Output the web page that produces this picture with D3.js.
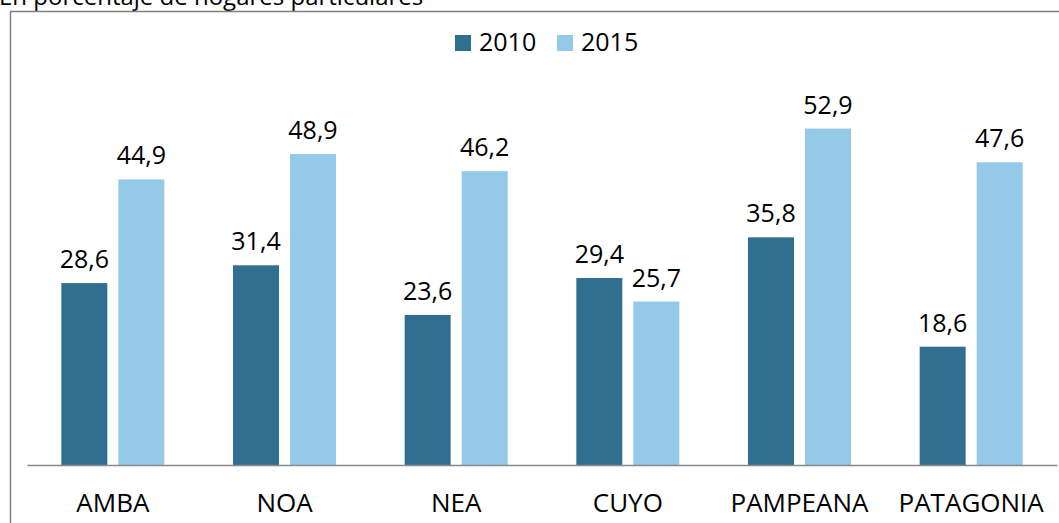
<!DOCTYPE html>
<html>
<head>
<meta charset="utf-8">
<script src="https://cdn.jsdelivr.net/npm/d3@7"></script>
<style>
  body { margin: 0; background: #fff; }
  svg { display: block; font-family: "Open Sans", sans-serif; }
</style>
</head>
<body>
<svg class="chart"></svg>
<script>
// input data
var regions = ["AMBA", "NOA", "NEA", "CUYO", "PAMPEANA", "PATAGONIA"];
var years = ["2010", "2015"];
var values2010 = [28.6, 31.4, 23.6, 29.4, 35.8, 18.6];
var values2015 = [44.9, 48.9, 46.2, 25.7, 52.9, 47.6];
var colors = ["#306f8f", "#95c9e8"];

var width = 1059, height = 523;

var svg = d3.select("svg.chart")
	.attr("width", width)
	.attr("height", height);

// subtitle, cut off at the top like in the source
svg.append("text")
	.attr("x", -1)
	.attr("y", 5)
	.style("font-size", "24px")
	.attr("fill", "#000")
	.text("En porcentaje de hogares particulares");

// frame
svg.append("rect")
	.attr("x", 10.5)
	.attr("y", 11.5)
	.attr("width", 1060)
	.attr("height", 520)
	.attr("fill", "none")
	.attr("stroke", "#7f7f7f")
	.attr("stroke-width", 1.5);

// scales
var x0 = d3.scaleBand()
	.domain(regions)
	.range([27, 1057]);

var groupW = 103;
var x1 = d3.scaleBand()
	.domain(years)
	.range([0, groupW])
	.paddingInner(0.193);

var y = d3.scaleLinear()
	.domain([0, 60])
	.range([465, 83.4]);

var rows = regions.map(function(r, i) {
	return {region: r, vals: [values2010[i], values2015[i]]};
});

var groups = svg.selectAll("g.region")
	.data(rows)
	.enter()
	.append("g")
	.attr("class", "region")
	.attr("transform", function(d) {
		return "translate(" + (x0(d.region) + (x0.bandwidth() - groupW) / 2) + ",0)";
	});

groups.selectAll("rect")
	.data(function(d) { return d.vals.map(function(v, j) { return {year: years[j], v: v, j: j}; }); })
	.enter()
	.append("rect")
	.attr("x", function(d) { return x1(d.year); })
	.attr("y", function(d) { return y(d.v); })
	.attr("width", x1.bandwidth())
	.attr("height", function(d) { return y(0) - y(d.v); })
	.attr("fill", function(d) { return colors[d.j]; });

// value labels
var fmt = function(v) { return d3.format(".1f")(v).replace(".", ","); };
groups.selectAll("text.val")
	.data(function(d) { return d.vals.map(function(v, j) { return {year: years[j], v: v}; }); })
	.enter()
	.append("text")
	.attr("class", "val")
	.attr("x", function(d) { return x1(d.year) + x1.bandwidth() / 2; })
	.attr("y", function(d) { return y(d.v) - 15; })
	.attr("text-anchor", "middle")
	.style("font-size", "25px")
	.attr("fill", "#000")
	.text(function(d) { return fmt(d.v); });

// baseline + category labels
var xAxis = d3.axisBottom(x0).tickSize(0).tickPadding(28);
var gx = svg.append("g")
	.attr("transform", "translate(0," + y(0) + ")")
	.call(xAxis);
gx.select(".domain")
	.attr("stroke", "#898989")
	.attr("stroke-width", 1.5);
gx.selectAll("text")
	.attr("dy", null)
	.attr("y", 47)
	.style("font-size", "26px")
	.style("font-family", "Open Sans, sans-serif")
	.attr("fill", "#000");

// legend
var legend = svg.append("g")
	.selectAll("g")
	.data(years)
	.enter()
	.append("g")
	.attr("transform", function(d, i) { return "translate(" + (455 + i * 102) + ",35)"; });
legend.append("rect")
	.attr("width", 16)
	.attr("height", 16)
	.attr("fill", function(d, i) { return colors[i]; });
legend.append("text")
	.attr("x", 24)
	.attr("y", 16)
	.style("font-size", "25px")
	.attr("fill", "#000")
	.text(function(d) { return d; });
</script>
</body>
</html>
